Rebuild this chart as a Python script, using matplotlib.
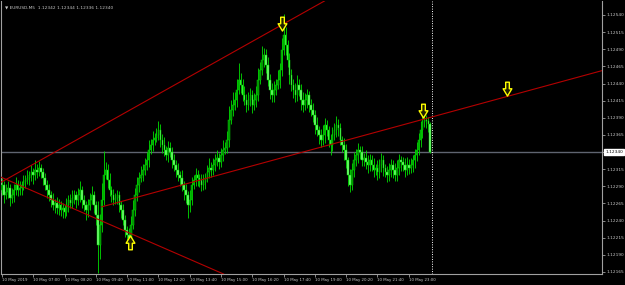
# EURUSD M5 chart, MetaTrader style
import numpy as np
import pandas as pd
import matplotlib
matplotlib.use('Agg')
import matplotlib.pyplot as plt
from matplotlib.path import Path
from matplotlib.transforms import blended_transform_factory

# Bars: 10 May 2019, M5, first bar 05:35
start = '2019-05-10 05:35'
first_open = 1.12280

close = [
    1.12285, 1.12292, 1.12277, 1.12282, 1.12288, 1.12273, 1.12277, 1.12285, 1.12292, 1.12285,
    1.12288, 1.12292, 1.12296, 1.12299, 1.12302, 1.12306, 1.12311, 1.12306, 1.12314, 1.12311,
    1.12317, 1.12311, 1.12302, 1.12292, 1.12285, 1.12277, 1.12270, 1.12263, 1.12266, 1.12258,
    1.12263, 1.12255, 1.12258, 1.12252, 1.12263, 1.12270, 1.12266, 1.12273, 1.12277, 1.12270,
    1.12277, 1.12285, 1.12270, 1.12263, 1.12255, 1.12263, 1.12270, 1.12277, 1.12263, 1.12248,
    1.12204, 1.12234, 1.12270, 1.12306, 1.12314, 1.12299, 1.12285, 1.12277, 1.12270, 1.12273,
    1.12277, 1.12263, 1.12255, 1.12241, 1.12226, 1.12219, 1.12215, 1.12234, 1.12255, 1.12277,
    1.12292, 1.12302, 1.12306, 1.12314, 1.12321, 1.12328, 1.12343, 1.12350, 1.12358, 1.12360,
    1.12365, 1.12372, 1.12358, 1.12350, 1.12343, 1.12336, 1.12346, 1.12340, 1.12328, 1.12321,
    1.12314, 1.12306, 1.12302, 1.12292, 1.12285, 1.12277, 1.12263, 1.12270, 1.12292, 1.12299,
    1.12306, 1.12302, 1.12299, 1.12292, 1.12296, 1.12302, 1.12311, 1.12317, 1.12314, 1.12321,
    1.12328, 1.12331, 1.12325, 1.12336, 1.12343, 1.12346, 1.12358, 1.12387, 1.12401, 1.12409,
    1.12416, 1.12431, 1.12445, 1.12438, 1.12423, 1.12416, 1.12409, 1.12416, 1.12423, 1.12409,
    1.12416, 1.12423, 1.12445, 1.12460, 1.12474, 1.12482, 1.12467, 1.12445, 1.12431, 1.12423,
    1.12431, 1.12438, 1.12445, 1.12460, 1.12489, 1.12511, 1.12496, 1.12474, 1.12452, 1.12438,
    1.12431, 1.12423, 1.12438, 1.12431, 1.12416, 1.12409, 1.12416, 1.12423, 1.12409, 1.12401,
    1.12394, 1.12379, 1.12372, 1.12365, 1.12358, 1.12365, 1.12379, 1.12372, 1.12358, 1.12350,
    1.12365, 1.12372, 1.12379, 1.12375, 1.12358, 1.12350, 1.12343, 1.12328, 1.12306, 1.12292,
    1.12314, 1.12328, 1.12336, 1.12343, 1.12340, 1.12328, 1.12331, 1.12325, 1.12321, 1.12328,
    1.12321, 1.12314, 1.12317, 1.12311, 1.12321, 1.12328, 1.12317, 1.12311, 1.12306, 1.12314,
    1.12321, 1.12314, 1.12306, 1.12317, 1.12328, 1.12325, 1.12321, 1.12314, 1.12321, 1.12317,
    1.12321, 1.12328, 1.12336, 1.12343, 1.12358, 1.12372, 1.12384, 1.12387, 1.12385, 1.12381,
    1.12340,
]

# wick lengths beyond the body, in points
wick_up = [
    8, 10, 6, 12, 9, 5, 10, 8, 12, 7,
    9, 6, 10, 8, 12, 7, 10, 6, 14, 8,
    10, 6, 5, 8, 7, 9, 6, 10, 5, 8,
    9, 6, 8, 5, 10, 7, 9, 12, 8, 6,
    10, 12, 6, 8, 5, 9, 10, 14, 6, 5,
    20, 15, 25, 35, 12, 8, 10, 6, 9, 7,
    8, 6, 5, 9, 7, 6, 10, 12, 15, 10,
    12, 9, 14, 8, 10, 12, 15, 9, 12, 8,
    10, 14, 9, 8, 12, 6, 10, 8, 7, 9,
    8, 10, 6, 12, 5, 9, 6, 14, 12, 8,
    10, 8, 6, 9, 12, 7, 10, 14, 8, 10,
    9, 12, 8, 10, 14, 9, 12, 20, 15, 18,
    12, 15, 25, 10, 8, 14, 9, 12, 10, 8,
    10, 14, 18, 12, 20, 10, 8, 12, 9, 10,
    12, 9, 14, 10, 18, 30, 12, 8, 10, 9,
    8, 10, 14, 9, 8, 12, 10, 9, 6, 8,
    10, 8, 12, 6, 9, 14, 10, 8, 6, 9,
    12, 10, 14, 9, 8, 6, 10, 8, 5, 9,
    10, 12, 8, 10, 6, 9, 8, 12, 10, 9,
    8, 10, 6, 12, 9, 10, 8, 6, 9, 10,
    9, 8, 10, 12, 9, 6, 8, 10, 12, 9,
    10, 8, 9, 12, 10, 14, 12, 8, 7, 6,
    3,
]
wick_dn = [
    10, 8, 12, 6, 9, 12, 8, 10, 7, 9,
    8, 10, 7, 9, 6, 10, 8, 12, 7, 9,
    6, 9, 10, 8, 12, 9, 10, 8, 12, 9,
    10, 8, 12, 9, 6, 10, 8, 7, 9, 12,
    8, 10, 12, 9, 14, 10, 8, 6, 12, 15,
    40, 20, 10, 8, 6, 12, 9, 10, 8, 6,
    9, 10, 12, 8, 10, 12, 15, 8, 6, 9,
    8, 10, 6, 9, 8, 7, 10, 6, 9, 8,
    6, 8, 10, 12, 9, 8, 10, 7, 12, 9,
    10, 8, 12, 9, 15, 12, 20, 10, 8, 6,
    8, 12, 10, 9, 8, 10, 6, 9, 10, 8,
    9, 8, 10, 7, 9, 6, 8, 10, 6, 9,
    8, 10, 6, 12, 9, 8, 10, 7, 9, 12,
    8, 10, 9, 6, 8, 10, 12, 9, 14, 10,
    10, 8, 6, 12, 9, 8, 14, 10, 12, 9,
    12, 10, 8, 9, 14, 10, 8, 12, 10, 9,
    10, 12, 9, 14, 10, 8, 12, 9, 10, 14,
    9, 8, 10, 12, 8, 10, 14, 12, 15, 10,
    8, 10, 9, 12, 10, 8, 9, 10, 12, 8,
    9, 10, 8, 12, 9, 10, 12, 8, 10, 9,
    10, 12, 9, 8, 10, 12, 9, 10, 8, 9,
    8, 10, 12, 9, 8, 10, 12, 8, 10, 12,
    2,
]

bid = 1.12340
title = '\u25bc EURUSD,M5  1.12342 1.12344 1.12336 1.12340'

# trend lines: (bar, price) anchor pairs
upper_line = [(0, 1.12295), (145, 1.12527)]
lower_line = [(0, 1.12304), (66, 1.12222)]
mid_ray = [(52, 1.12260), (218, 1.12389)]

# arrow objects: bar, price, direction
arrow_bar = [144, 216.5, 259, 66.5]
arrow_price = [1.12527, 1.12400, 1.12432, 1.12209]
arrow_dir = ['down', 'down', 'down', 'up']

vline_bar = 220.8

# time scale labels
time_ticks = [1, 17, 33, 49, 65, 81, 97, 113, 129, 145, 161, 177, 193, 209]
time_labels = ['10 May 2019', '10 May 07:00', '10 May 08:20', '10 May 09:40', '10 May 11:00',
               '10 May 12:20', '10 May 13:40', '10 May 15:00', '10 May 16:20', '10 May 17:40',
               '10 May 19:00', '10 May 20:20', '10 May 21:40', '10 May 23:00']
price_ticks = [1.12165, 1.12190, 1.12215, 1.12240, 1.12265, 1.12290, 1.12315, 1.12340,
               1.12365, 1.12390, 1.12415, 1.12440, 1.12465, 1.12490, 1.12515, 1.12540]

# ---- build OHLC
times = pd.date_range(start, periods=len(close), freq='5min')
c = np.array(close)
o = np.r_[first_open, c[:-1]]
h = np.maximum(o, c) + np.array(wick_up) * 1e-5
l = np.minimum(o, c) - np.array(wick_dn) * 1e-5
idx = np.arange(len(times))
bull = c >= o

fg = '#C8C8C8'
fig = plt.figure(figsize=(6.25, 2.85), dpi=100, facecolor='black')
ax = fig.add_axes([0.0016, 0.0386, 0.9616, 0.9579], facecolor='black')

ax.vlines(idx, l, h, color='#00E000', lw=0.6, zorder=2)
body = np.maximum(np.abs(c - o), 0.3e-5)
ax.bar(idx[bull], body[bull], bottom=o[bull], width=0.8, color='#008C00',
       edgecolor='#00D000', lw=0.35, zorder=3)
ax.bar(idx[~bull], body[~bull], bottom=c[~bull], width=0.8, color='#7CFF7C',
       edgecolor='#00D000', lw=0.35, zorder=3)

# bid line and vertical dotted line
ax.axhline(bid, color='#5F6470', lw=1.0, zorder=1)
ax.axvline(vline_bar, color='white', lw=0.7, ls=(0, (1, 1.5)), zorder=1)

# trend lines
red = '#B40000'
ax.axline(upper_line[0], upper_line[1], color=red, lw=0.8, zorder=4)
ax.axline(lower_line[0], lower_line[1], color=red, lw=0.8, zorder=4)
(x1, y1), (x2, y2) = mid_ray
slope = (y2 - y1) / (x2 - x1)
ax.plot([x1, 330], [y1, y1 + slope * (330 - x1)], color=red, lw=0.8, zorder=4)

# arrows
down_arrow = Path([(-0.25, 1.0), (0.25, 1.0), (0.25, 0.1), (0.6, 0.1), (0.0, -0.9),
                   (-0.6, 0.1), (-0.25, 0.1), (-0.25, 1.0)], closed=True)
up_arrow = Path([(x, -y) for x, y in down_arrow.vertices], closed=True)
for b, p, d in zip(arrow_bar, arrow_price, arrow_dir):
    ax.plot(b, p, marker=down_arrow if d == 'down' else up_arrow, ms=10.5,
            mfc='#202000', mec='#FFFF00', mew=1.0, zorder=6)

ax.set_xlim(0.51, 307.8)
ax.set_ylim(1.121620, 1.125604)

# axes frame
ax.spines['top'].set_visible(False)
for s in ['left', 'right', 'bottom']:
    ax.spines[s].set_color('#A0A0A0')
    ax.spines[s].set_linewidth(0.8)

ax.yaxis.tick_right()
ax.set_yticks(price_ticks)
ax.set_yticklabels(['%.5f' % p for p in price_ticks])
ax.set_xticks(time_ticks)
ax.set_xticklabels(time_labels, ha='left')
ax.tick_params(axis='y', colors='#A0A0A0', labelcolor=fg, labelsize=3.1,
               length=2, width=0.6, pad=1)
ax.tick_params(axis='x', colors='#A0A0A0', labelcolor=fg, labelsize=2.8,
               length=2, width=0.6, pad=1.2)

# highlighted current price label
tr = blended_transform_factory(ax.transAxes, ax.transData)
ax.text(1.0055, bid, '%.5f' % bid, transform=tr, fontsize=3.1, color='black',
        va='center', ha='left', zorder=10, clip_on=False,
        bbox=dict(boxstyle='square,pad=0.25', fc='white', ec='white'))

ax.text(0.006, 0.985, title, transform=ax.transAxes, fontsize=3.1, color=fg,
        va='top', ha='left')

fig.savefig('out.png', dpi=100, facecolor='black')
